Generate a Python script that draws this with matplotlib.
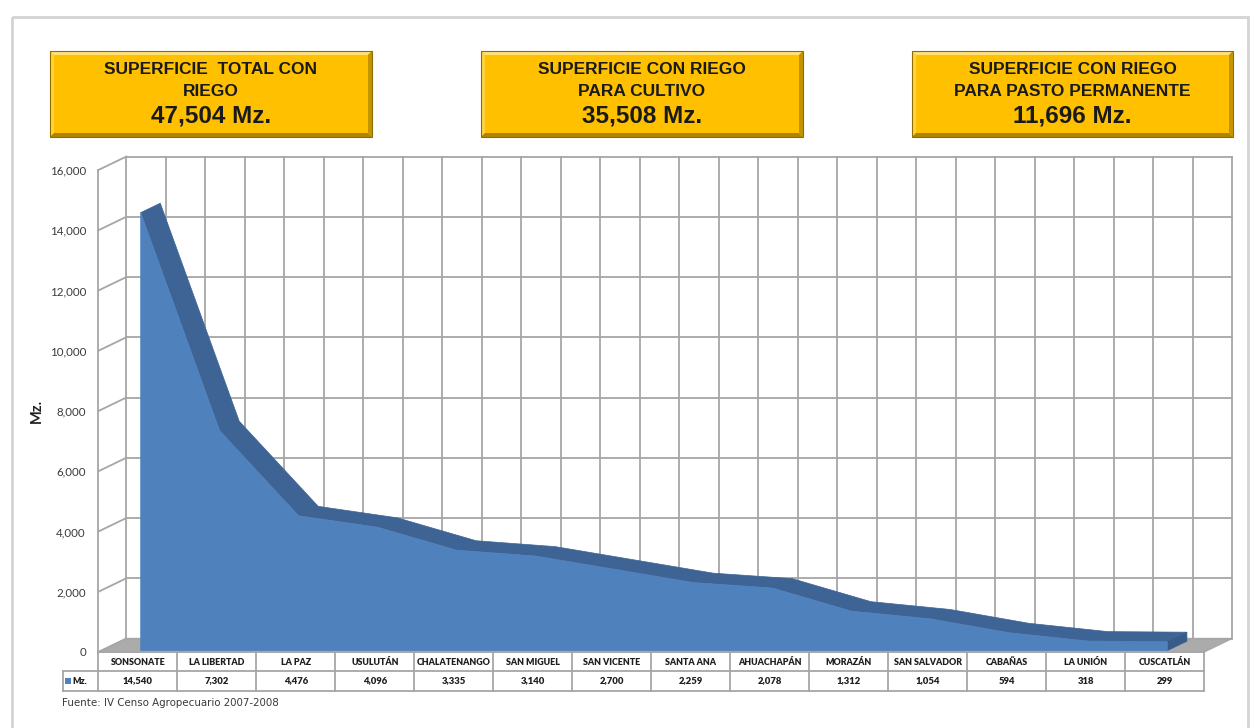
"""Superficie con riego por departamento (area 3D con tabla de datos)."""
import matplotlib
matplotlib.use("Agg")
import matplotlib.pyplot as plt
from matplotlib.patches import Polygon, Rectangle
from matplotlib.transforms import blended_transform_factory

plt.rcParams["font.family"] = ["Lato", "DejaVu Sans"]

# Datos
DEPARTAMENTOS = ["SONSONATE", "LA LIBERTAD", "LA PAZ", "USULUTÁN", "CHALATENANGO",
                 "SAN MIGUEL", "SAN VICENTE", "SANTA ANA", "AHUACHAPÁN", "MORAZÁN",
                 "SAN SALVADOR", "CABAÑAS", "LA UNIÓN", "CUSCATLÁN"]
SUPERFICIE_MZ = [14540, 7302, 4476, 4096, 3335, 3140, 2700, 2259, 2078, 1312,
                 1054, 594, 318, 299]
Y_TICKS = list(range(0, 16001, 2000))
SERIE = "Mz."
RESUMEN_TITULOS = ["SUPERFICIE  TOTAL CON\nRIEGO",
                   "SUPERFICIE CON RIEGO\nPARA CULTIVO",
                   "SUPERFICIE CON RIEGO\nPARA PASTO PERMANENTE"]
RESUMEN_VALORES = [47504, 35508, 11696]
FUENTE = "Fuente: IV Censo Agropecuario 2007-2008"

# Colores
FRONT = "#4F81BD"
TOP = "#3D6494"
CAP = "#385C8A"
GRID = "#A6A6A6"
FLOOR = "#ABABAB"
TXT = "#1f1f1f"

W, H = 1254, 728
fig = plt.figure(figsize=(W / 100, H / 100), dpi=100)

# lienzo en pixeles para cajas, marco y tabla
canvas = fig.add_axes([0, 0, 1, 1], zorder=-1)
canvas.set_xlim(0, W)
canvas.set_ylim(H, 0)
canvas.axis("off")

# plano frontal del gráfico
x_left, x_right, y_bot, y_top = 98.4, 1204, 652, 170
ax = fig.add_axes([x_left / W, 1 - y_bot / H, (x_right - x_left) / W, (y_bot - y_top) / H])
n = len(DEPARTAMENTOS)
ax.set_xlim(-0.5, n - 0.5)
ax.set_ylim(0, 16000)
ax.patch.set_visible(False)
for s in ax.spines.values():
    s.set_visible(False)
ax.set_xticks([])
ax.set_yticks(Y_TICKS)
ax.set_yticklabels([f"{v:,}" for v in Y_TICKS], fontsize=8.3, color="#3a3a3a")
ax.tick_params(axis="y", length=0, pad=9)
ax.set_ylabel("Mz.", fontsize=10.5, fontweight="bold", color=TXT, labelpad=4)

# profundidad 3D (en unidades de datos)
px_per_cat = (x_right - x_left) / n
px_per_val = (y_bot - y_top) / 16000
DX = 28 / px_per_cat
DY = 13.5 / px_per_val
x0, x1 = -0.5, n - 0.5
ytop = Y_TICKS[-1]

# piso
ax.add_patch(Polygon([(x0, 0), (x1, 0), (x1 + DX, DY), (x0 + DX, DY)],
                     closed=True, fc=FLOOR, ec=GRID, lw=1, clip_on=False, zorder=1))
# pared de fondo: cuadrícula
for v in Y_TICKS:
    ax.plot([x0 + DX, x1 + DX], [v + DY, v + DY], color=GRID, lw=1.3, clip_on=False, zorder=1)
    ax.plot([x0, x0 + DX], [v, v + DY], color=GRID, lw=1.3, clip_on=False, zorder=1)
for k in range(2 * n + 1):
    xv = x0 + 0.5 * k + DX
    ax.plot([xv, xv], [DY, ytop + DY], color=GRID, lw=1.3, clip_on=False, zorder=1)
ax.plot([x0, x0], [0, ytop], color=GRID, lw=1.3, clip_on=False, zorder=1)

# área 3D
f1, f2 = 0.1, 0.8
xs = list(range(n))
front = [(x + f1 * DX, v + f1 * DY) for x, v in zip(xs, SUPERFICIE_MZ)]
back = [(x + f2 * DX, v + f2 * DY) for x, v in zip(xs, SUPERFICIE_MZ)]
ax.add_patch(Polygon(front + back[::-1], closed=True, fc=TOP, ec=TOP, lw=0.5,
                     clip_on=False, zorder=2))
xl, vl = xs[-1], SUPERFICIE_MZ[-1]
ax.add_patch(Polygon([(xl + f1 * DX, f1 * DY), (xl + f1 * DX, vl + f1 * DY),
                      (xl + f2 * DX, vl + f2 * DY), (xl + f2 * DX, f2 * DY)],
                     closed=True, fc=CAP, ec=CAP, lw=0.5, clip_on=False, zorder=2))
ax.add_patch(Polygon([(xs[0] + f1 * DX, f1 * DY)] + front + [(xl + f1 * DX, f1 * DY)],
                     closed=True, fc=FRONT, ec=FRONT, lw=0.5, clip_on=False, zorder=3))

# tabla de datos
tr = blended_transform_factory(ax.transData, canvas.transData)
x_leg = x0 - 35.4 / px_per_cat
r0, r1, r2 = 652, 671, 691
canvas.plot([x0, x1], [r0, r0], color=GRID, lw=1.3, transform=tr)
for r in (r1, r2):
    canvas.plot([x_leg, x1], [r, r], color=GRID, lw=1.3, transform=tr)
for k in range(n + 1):
    canvas.plot([x0 + k, x0 + k], [r0, r2], color=GRID, lw=1.3, transform=tr)
canvas.plot([x_leg, x_leg], [r1, r2], color=GRID, lw=1.3, transform=tr)
for x, name, v in zip(xs, DEPARTAMENTOS, SUPERFICIE_MZ):
    canvas.text(x, (r0 + r1) / 2 + 1, name, transform=tr, ha="center", va="center",
                fontsize=6.4, fontweight="heavy", color=TXT)
    canvas.text(x, (r1 + r2) / 2, f"{v:,}", transform=tr, ha="center", va="center",
                fontsize=6.8, fontweight="heavy", color=TXT)
canvas.add_patch(Rectangle((65, 678), 6, 6, fc=FRONT, ec="none"))
canvas.text(72, (r1 + r2) / 2, SERIE, ha="left", va="center", fontsize=6.4,
            fontweight="heavy", color=TXT)

canvas.text(62, 703, FUENTE, ha="left", va="center", fontsize=7.4, color="#3a3a3a",
            family="DejaVu Sans")

# marco exterior
canvas.add_patch(Rectangle((12, 17), 1236, 730, fc="none", ec="#D4D4D4", lw=2))


# cajas resumen
def caja(bx0, by0, bx1, by1, b=4):
    canvas.add_patch(Rectangle((bx0, by0), bx1 - bx0, by1 - by0, fc="#FFC000", ec="none"))
    canvas.add_patch(Polygon([(bx0, by0), (bx1, by0), (bx1 - b, by0 + b), (bx0 + b, by0 + b)],
                             fc="#FFE27A", ec="none"))
    canvas.add_patch(Polygon([(bx0, by0), (bx0 + b, by0 + b), (bx0 + b, by1 - b), (bx0, by1)],
                             fc="#FFD33F", ec="none"))
    canvas.add_patch(Polygon([(bx0, by1), (bx0 + b, by1 - b), (bx1 - b, by1 - b), (bx1, by1)],
                             fc="#B08400", ec="none"))
    canvas.add_patch(Polygon([(bx1, by0), (bx1, by1), (bx1 - b, by1 - b), (bx1 - b, by0 + b)],
                             fc="#C49400", ec="none"))
    canvas.add_patch(Rectangle((bx0, by0), bx1 - bx0, by1 - by0, fc="none", ec="#8E6E00", lw=0.8))


cajas_x = [(50, 372), (481, 803), (912, 1233)]
for (bx0, bx1), titulo, valor in zip(cajas_x, RESUMEN_TITULOS, RESUMEN_VALORES):
    caja(bx0, 51, bx1, 137)
    cx = (bx0 + bx1) / 2
    l1, l2 = titulo.split("\n")
    canvas.text(cx, 70, l1, ha="center", va="center", fontsize=12.5, fontweight="bold",
                family="Liberation Sans", color="#1a1a1a")
    canvas.text(cx, 92, l2, ha="center", va="center", fontsize=12.5, fontweight="bold",
                family="Liberation Sans", color="#1a1a1a")
    canvas.text(cx, 116, f"{valor:,} Mz.", ha="center", va="center", fontsize=17.5,
                fontweight="bold", family="Liberation Sans", color="#1a1a1a")

fig.savefig("out.png", dpi=100)
